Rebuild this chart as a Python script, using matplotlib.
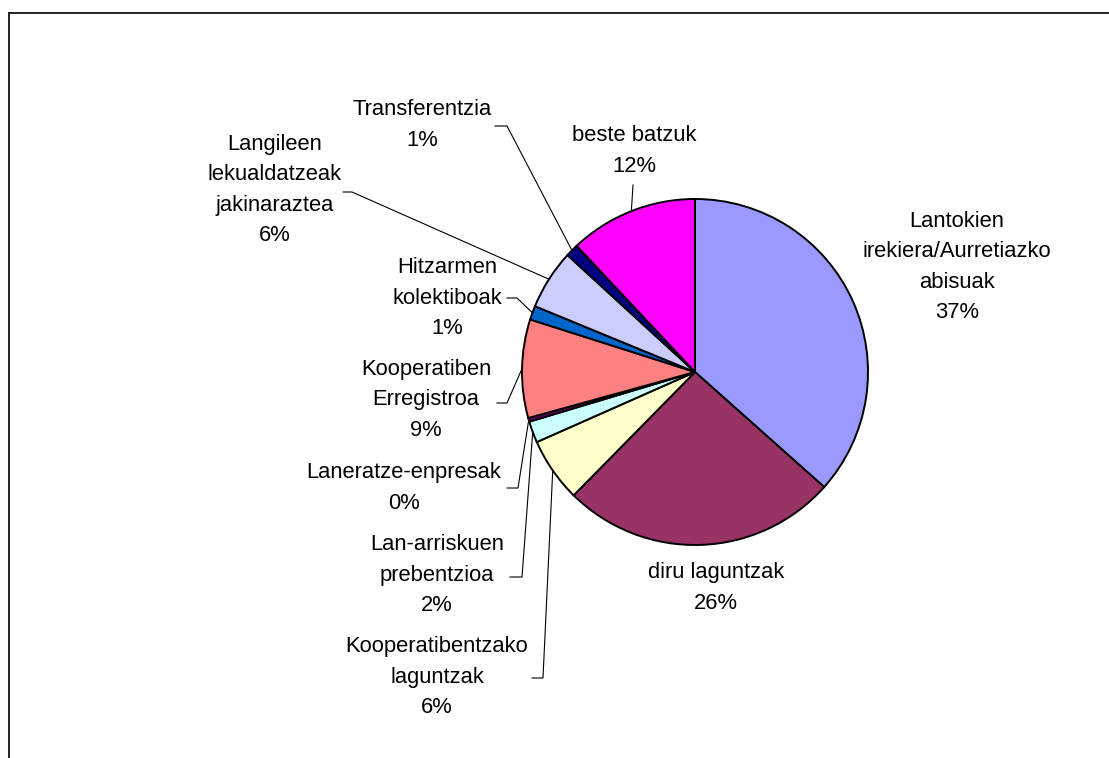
import numpy as np
import matplotlib
matplotlib.use("Agg")
import matplotlib.pyplot as plt

# slice data, clockwise from 12 o'clock
labels = ["Lantokien\nirekiera/Aurretiazko\nabisuak",
          "diru laguntzak",
          "Kooperatibentzako\nlaguntzak",
          "Lan-arriskuen\nprebentzioa",
          "Laneratze-enpresak",
          "Kooperatiben\nErregistroa",
          "Hitzarmen\nkolektiboak",
          "Langileen\nlekualdatzeak\njakinaraztea",
          "Transferentzia",
          "beste batzuk"]
values = [36.6, 25.8, 6.0, 2.0, 0.35, 9.2, 1.3, 5.6, 1.2, 12.0]
colors = ["#9999FF", "#993366", "#FFFFCC", "#CCFFFF", "#660066",
          "#FF8080", "#0066CC", "#CCCCFF", "#000080", "#FF00FF"]

W, H = 1109, 758
plt.rcParams['font.family'] = ['Liberation Sans', 'DejaVu Sans']

fig = plt.figure(figsize=(W / 100, H / 100), dpi=100)
ax = fig.add_axes([0, 0, 1, 1])

def py(y):
    # pixel row -> data y
    return H - y

cx, cy, r = 695, py(372), 173
wedges, _ = ax.pie(values, colors=colors, startangle=90, counterclock=False,
                   center=(cx, cy), radius=r, frame=True,
                   wedgeprops=dict(edgecolor='black', linewidth=1.4))
ax.set_xlim(0, W)
ax.set_ylim(0, H)
ax.set_aspect('equal')
ax.axis('off')

pct = [f"{v:.0f}%" for v in values]

# label block centre in pixels, leader anchor/elbow in pixels
label_pos = [(957, 267), (716, 588), (437, 677), (437, 575), (404, 488),
             (426, 400), (447, 298), (275, 190), (422, 125), (634, 151)]
leaders = [None, None,
           [(532, 678), (543, 678)],
           [(510, 577), (522, 577)],
           [(507, 488), (518, 488)],
           [(497, 403), (507, 403)],
           [(507, 298), (517, 298)],
           [(343, 192), (352, 192)],
           [(495, 126), (507, 126)],
           [(633, 185)]]

for w, lab, p, pos, ld in zip(wedges, labels, pct, label_pos, leaders):
    ax.text(pos[0], py(pos[1]), lab + "\n" + p, ha='center', va='center',
            fontsize=15.8, linespacing=1.58, color='black')
    if ld is None:
        continue
    mid = np.deg2rad((w.theta1 + w.theta2) / 2)
    ex, ey = cx + r * np.cos(mid), cy + r * np.sin(mid)
    xs = [q[0] for q in ld] + [ex]
    ys = [py(q[1]) for q in ld] + [ey]
    ax.plot(xs, ys, color='black', linewidth=0.8)

# chart area border (top and left edges visible)
fig.add_artist(plt.Line2D([9 / W, 1], [1 - 13 / H, 1 - 13 / H],
                          transform=fig.transFigure, color='#222222', linewidth=1.4))
fig.add_artist(plt.Line2D([9 / W, 9 / W], [0, 1 - 13 / H],
                          transform=fig.transFigure, color='#222222', linewidth=1.4))

fig.savefig("out.png", dpi=100)
